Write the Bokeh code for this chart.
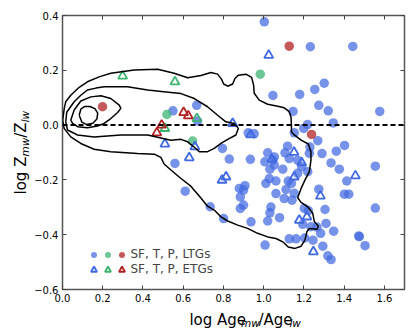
import math
from bokeh.plotting import figure
from bokeh.layouts import row, column
from bokeh.models import (Range1d, FixedTicker, LinearAxis, Legend, LegendItem,
                          Span, CustomJSTickFormatter)
from bokeh.core.properties import value
from bokeh.embed import file_html
from bokeh.resources import INLINE

FONT = "DejaVu Sans"

# ---------------- data ----------------
x_ticks = [0.0, 0.2, 0.4, 0.6, 0.8, 1.0, 1.2, 1.4, 1.6]
x_tick_labels = ["0.0", "0.2", "0.4", "0.6", "0.8", "1.0", "1.2", "1.4", "1.6"]
y_ticks = [-0.6, -0.4, -0.2, 0.0, 0.2, 0.4]
y_tick_labels = ["\u22120.6", "\u22120.4", "\u22120.2", "0.0", "0.2", "0.4"]

# LTGs, star-forming (blue filled circles)
ltg_sf_x = [1.003, 1.232, 1.443, 1.301, 1.254, 1.046, 1.179, 1.274, 1.321, 1.146, 1.577, 1.346,
            1.218, 0.549, 0.667, 0.671, 1.199, 0.923, 0.953, 1.152, 1.269, 1.402, 1.119, 0.795,
            1.361, 1.290, 1.230, 1.020, 1.106, 1.227, 0.559, 0.829, 0.934, 1.006, 1.045, 1.053,
            1.127, 1.169, 1.335, 1.555, 1.376, 1.031, 1.095, 1.169, 1.189, 1.219, 1.053, 1.011,
            1.028, 1.061, 1.111, 1.122, 1.138, 0.879, 0.907, 0.900, 0.884, 1.061, 1.102, 1.141,
            1.152, 1.274, 1.413, 1.401, 1.423, 1.305, 1.202, 1.222, 0.734, 0.610, 1.036, 1.031,
            0.900, 0.884, 1.555, 0.801, 0.937, 1.020, 1.079, 1.194, 1.235, 1.265, 1.310, 1.348,
            1.283, 1.127, 1.161, 1.204, 1.245, 1.007, 1.294, 1.319, 1.335, 1.476, 1.472, 1.504]
ltg_sf_y = [0.377, 0.286, 0.287, 0.153, 0.130, 0.108, 0.112, 0.072, 0.052, 0.050, 0.050, 0.008,
            0.002, 0.052, 0.072, 0.015, -0.012, -0.028, -0.032, -0.028, -0.057, -0.074, -0.077, -0.085,
            -0.095, -0.104, -0.080, -0.101, -0.101, -0.103, -0.140, -0.124, -0.125, -0.134, -0.128, -0.116,
            -0.122, -0.128, -0.138, -0.150, -0.161, -0.161, -0.161, -0.176, -0.152, -0.170, -0.146, -0.213,
            -0.195, -0.204, -0.235, -0.204, -0.213, -0.231, -0.221, -0.237, -0.262, -0.250, -0.268, -0.274,
            -0.249, -0.234, -0.204, -0.252, -0.252, -0.308, -0.304, -0.312, -0.298, -0.241, -0.299, -0.320,
            -0.292, -0.304, -0.303, -0.341, -0.353, -0.350, -0.338, -0.362, -0.371, -0.372, -0.359, -0.387,
            -0.395, -0.415, -0.415, -0.412, -0.420, -0.438, -0.442, -0.477, -0.491, -0.407, -0.405, -0.440]

# LTGs, transition (green filled circles)
ltg_t_x = [0.983, 0.519, 0.647]
ltg_t_y = [0.186, 0.039, -0.058]

# LTGs, passive (red filled circles)
ltg_p_x = [0.199, 1.127, 1.238]
ltg_p_y = [0.067, 0.288, -0.034]

# ETGs, star-forming (blue open triangles)
etg_sf_x = [0.846, 1.025, 0.935, 0.509, 0.658, 0.630, 1.151, 1.040, 1.189, 1.152, 1.282, 0.793,
            0.813, 1.177, 1.215, 1.247, 1.456]
etg_sf_y = [0.006, 0.255, -0.035, -0.069, -0.079, -0.119, -0.099, -0.124, -0.137, -0.189, -0.259, -0.201,
            -0.189, -0.347, -0.335, -0.462, -0.185]

# ETGs, transition (green open triangles)
etg_t_x = [0.299, 0.559, 0.509, 0.668]
etg_t_y = [0.179, 0.158, -0.012, 0.024]

# ETGs, passive (red open triangles)
etg_p_x = [0.602, 0.625, 0.493, 0.469]
etg_p_y = [0.046, 0.034, 0.000, -0.028]

# density contours (closed curves), innermost to outermost
contour1_x = [0.083, 0.091, 0.111, 0.136, 0.161, 0.175, 0.171, 0.151, 0.121, 0.096, 0.083]
contour1_y = [0.036, 0.058, 0.068, 0.068, 0.060, 0.044, 0.022, 0.007, 0.002, 0.011, 0.036]

contour2_x = [0.041, 0.058, 0.091, 0.141, 0.191, 0.240, 0.282, 0.290, 0.274, 0.240, 0.207, 0.174,
              0.124, 0.075, 0.050, 0.041]
contour2_y = [0.018, 0.055, 0.088, 0.103, 0.107, 0.097, 0.073, 0.061, 0.046, 0.024, 0.006, -0.003,
              -0.010, -0.006, 0.006, 0.018]

contour3_x = [0.016, 0.021, 0.058, 0.091, 0.124, 0.166, 0.207, 0.323, 0.423, 0.539, 0.589, 0.655,
              0.721, 0.771, 0.812, 0.854, 0.874, 0.862, 0.821, 0.788, 0.754, 0.721, 0.680, 0.655,
              0.622, 0.589, 0.539, 0.423, 0.290, 0.157, 0.075, 0.025, 0.016]
contour3_y = [0.012, 0.047, 0.085, 0.109, 0.128, 0.135, 0.140, 0.140, 0.128, 0.119, 0.115, 0.097,
              0.067, 0.036, 0.012, 0.006, -0.012, -0.036, -0.052, -0.067, -0.085, -0.097, -0.097, -0.081,
              -0.061, -0.052, -0.055, -0.036, -0.036, -0.043, -0.036, -0.018, 0.012]

contour4_x = [0.001, 0.009, 0.016, 0.041, 0.083, 0.124, 0.182, 0.240, 0.356, 0.473, 0.555, 0.622,
              0.688, 0.738, 0.771, 0.791, 0.801, 0.821, 0.846, 0.857, 0.874, 0.912, 0.940, 0.950,
              0.953, 0.978, 1.020, 1.070, 1.102, 1.127, 1.136, 1.138, 1.138, 1.152, 1.186, 1.222,
              1.235, 1.235, 1.227, 1.205, 1.186, 1.169, 1.186, 1.219, 1.244, 1.252, 1.272, 1.265,
              1.227, 1.215, 1.205, 1.186, 1.156, 1.122, 1.095, 1.061, 1.020, 0.970, 0.920, 0.871,
              0.821, 0.788, 0.754, 0.721, 0.688, 0.638, 0.589, 0.539, 0.505, 0.489, 0.456, 0.373,
              0.240, 0.157, 0.091, 0.041, 0.008, 0.001]
contour4_y = [0.018, 0.062, 0.085, 0.109, 0.138, 0.158, 0.176, 0.189, 0.201, 0.204, 0.189, 0.173,
              0.181, 0.192, 0.186, 0.167, 0.150, 0.142, 0.150, 0.170, 0.182, 0.186, 0.174, 0.146,
              0.116, 0.091, 0.076, 0.069, 0.063, 0.049, 0.029, 0.000, -0.024, -0.036, -0.055, -0.069,
              -0.097, -0.128, -0.170, -0.201, -0.231, -0.265, -0.282, -0.298, -0.322, -0.353, -0.369, -0.380,
              -0.377, -0.389, -0.420, -0.442, -0.450, -0.445, -0.426, -0.414, -0.408, -0.395, -0.377, -0.365,
              -0.350, -0.335, -0.310, -0.296, -0.266, -0.223, -0.195, -0.164, -0.142, -0.118, -0.106, -0.104,
              -0.097, -0.088, -0.067, -0.043, -0.012, 0.018]

legend_labels = ["SF, T, P, LTGs", "SF, T, P, ETGs"]
x_label_parts = ["log Age", "mw", "/Age", "lw"]
y_label_parts = ["log Z", "mw", "/Z", "lw"]

BLUE = "royalblue"
GREEN = "mediumseagreen"
RED = "firebrick"

# ---------------- layout sizes (pixels) ----------------
YL_W = 31            # strip holding the y-axis title
MAIN_W = 376
MAIN_H = 306
XL_H = 27            # strip holding the x-axis title

# ---------------- main figure ----------------
p = figure(width=MAIN_W, height=MAIN_H, output_backend="svg", toolbar_location=None,
           x_range=Range1d(0, 1.7), y_range=Range1d(-0.6, 0.4),
           min_border_left=31, min_border_right=3, min_border_top=15, min_border_bottom=17)
p.grid.visible = False
p.outline_line_color = "#555555"
p.outline_line_width = 1.5
p.background_fill_color = "white"
p.border_fill_color = "white"

p.xaxis.ticker = FixedTicker(ticks=x_ticks)
p.xaxis.major_label_overrides = dict(zip(x_ticks, x_tick_labels))
p.yaxis.ticker = FixedTicker(ticks=y_ticks)
p.yaxis.major_label_overrides = dict(zip(y_ticks, y_tick_labels))
for ax in (p.xaxis[0], p.yaxis[0]):
    ax.major_tick_in = 4
    ax.major_tick_out = 0
    ax.minor_tick_line_color = None
    ax.axis_line_color = None
    ax.major_tick_line_color = "#444444"
    ax.major_label_text_font = FONT
    ax.major_label_text_font_size = "10px"
    ax.major_label_text_color = "black"
    ax.major_label_standoff = 4

top_axis = LinearAxis(ticker=FixedTicker(ticks=x_ticks),
                      formatter=CustomJSTickFormatter(code="return ''"),
                      major_tick_in=4, major_tick_out=0, minor_tick_line_color=None,
                      axis_line_color=None, major_tick_line_color="#444444",
                      major_label_standoff=0, major_label_text_font_size="1px")
right_axis = LinearAxis(ticker=FixedTicker(ticks=y_ticks),
                        formatter=CustomJSTickFormatter(code="return ''"),
                        major_tick_in=4, major_tick_out=0, minor_tick_line_color=None,
                        axis_line_color=None, major_tick_line_color="#444444",
                        major_label_standoff=0, major_label_text_font_size="1px")
p.add_layout(top_axis, "above")
p.add_layout(right_axis, "right")

# points
r_ltg_sf = p.scatter(ltg_sf_x, ltg_sf_y, marker="circle", size=9.5, fill_color=BLUE,
                     fill_alpha=0.72, line_color=None)
r_ltg_t = p.scatter(ltg_t_x, ltg_t_y, marker="circle", size=9.5, fill_color=GREEN,
                    fill_alpha=0.75, line_color=None)
r_ltg_p = p.scatter(ltg_p_x, ltg_p_y, marker="circle", size=9.5, fill_color=RED,
                    fill_alpha=0.75, line_color=None)
r_etg_sf = p.scatter(etg_sf_x, etg_sf_y, marker="triangle", size=9, fill_color=None,
                     line_color=BLUE, line_width=1.8)
r_etg_t = p.scatter(etg_t_x, etg_t_y, marker="triangle", size=9, fill_color=None,
                    line_color=GREEN, line_width=1.8)
r_etg_p = p.scatter(etg_p_x, etg_p_y, marker="triangle", size=9, fill_color=None,
                    line_color=RED, line_width=1.8)

# contours
for cx, cy in ((contour1_x, contour1_y), (contour2_x, contour2_y),
               (contour3_x, contour3_y), (contour4_x, contour4_y)):
    p.line(cx, cy, line_color="black", line_width=1.5)

# zero line
p.add_layout(Span(location=0.0, dimension="width", line_color="black",
                  line_width=2, line_dash="5 3"))

# legends (three columns of markers, labels on the last)
leg_kw = dict(glyph_width=15, glyph_height=15, label_height=15, label_width=0, spacing=0,
              padding=0, margin=0, border_line_color=None, background_fill_alpha=0,
              label_text_font=FONT, label_text_font_size="12px", label_standoff=2,
              orientation="vertical")
leg_blue = Legend(items=[LegendItem(label=value(""), renderers=[r_ltg_sf]),
                         LegendItem(label=value(""), renderers=[r_etg_sf])],
                  location=(24.2, 12.5), **leg_kw)
leg_green = Legend(items=[LegendItem(label=value(""), renderers=[r_ltg_t]),
                          LegendItem(label=value(""), renderers=[r_etg_t])],
                   location=(37.5, 12.5), **leg_kw)
leg_red = Legend(items=[LegendItem(label=value(legend_labels[0]), renderers=[r_ltg_p]),
                        LegendItem(label=value(legend_labels[1]), renderers=[r_etg_p])],
                 location=(51.5, 12.5), **leg_kw)
for lg in (leg_blue, leg_green, leg_red):
    p.add_layout(lg, "center")


# ---------------- title strips (pixel coordinate systems) ----------------
def strip(w, h):
    f = figure(width=w, height=h, output_backend="svg", toolbar_location=None,
               x_range=Range1d(0, w), y_range=Range1d(0, h),
               x_axis_type=None, y_axis_type=None, min_border=0)
    f.grid.visible = False
    f.outline_line_color = None
    f.background_fill_color = "white"
    f.border_fill_color = "white"
    return f


def put(f, txt, x, y, size, italic=False, angle=0.0, baseline="alphabetic"):
    f.text(x=[x], y=[y], text=[txt], text_font=value(FONT),
           text_font_size=value(f"{size}px"),
           text_font_style="italic" if italic else "normal",
           text_baseline=baseline, text_align="left", angle=angle,
           text_color="black")


xl = strip(MAIN_W, XL_H)
put(xl, x_label_parts[0], 139.5, 13.5, 15)
put(xl, x_label_parts[1], 196.2, 10.5, 10.5, italic=True)
put(xl, x_label_parts[2], 215.5, 13.5, 15)
put(xl, x_label_parts[3], 249.5, 10.5, 10.5, italic=True)

yl = strip(YL_W, MAIN_H + XL_H)
rot = math.pi / 2
put(yl, y_label_parts[0], 20.0, 139.0, 15, angle=rot, baseline="middle")
put(yl, y_label_parts[1], 24.0, 177.0, 10.5, italic=True, angle=rot, baseline="middle")
put(yl, y_label_parts[2], 20.0, 195.8, 15, angle=rot, baseline="middle")
put(yl, y_label_parts[3], 24.0, 211.2, 10.5, italic=True, angle=rot, baseline="middle")

layout = row(yl, column(p, xl, spacing=0), spacing=0)

open("out.html", "w").write(file_html(layout, INLINE))
